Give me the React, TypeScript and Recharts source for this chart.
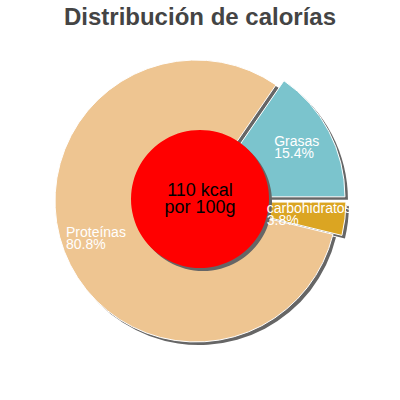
import React from 'react';
import { PieChart, Pie, Cell } from 'recharts';

const categories = ['Grasas', 'Proteínas', 'carbohidratos'];
const percents = [15.4, 80.8, 3.8];
const pulledOut = ['Grasas', 'carbohidratos'];
const energyLines = ['110 kcal', 'por 100g'];
const title = 'Distribución de calorías';

const colors = ['#7bc4cd', '#eec591', '#dba522'];
const shadowColor = '#666666';
const FONT = "'Liberation Sans', Arial, sans-serif";

const CX = 196;
const CY = 201;
const R = 141;
const PULL = 9;
const SHADOW = 3;
const LABEL_SIZE = 14;

const data = categories.map((name, i) => ({ name, value: percents[i] }));
const total = percents.reduce((a, b) => a + b, 0);

// middle angle of every slice, same way the pie lays them out (0 -> 360, ccw)
const midAngles = percents.map((v, i) => {
  const before = percents.slice(0, i).reduce((a, b) => a + b, 0);
  return ((before + v / 2) / total) * 360;
});

const shift = (i: number) => {
  if (!pulledOut.includes(categories[i])) return { dx: 0, dy: 0 };
  const rad = (midAngles[i] * Math.PI) / 180;
  return { dx: PULL * Math.cos(rad), dy: -PULL * Math.sin(rad) };
};

let ctx: CanvasRenderingContext2D | null = null;
const textWidth = (s: string) => {
  if (!ctx) ctx = document.createElement('canvas').getContext('2d');
  if (!ctx) return s.length * 7;
  ctx.font = `${LABEL_SIZE}px ${FONT}`;
  return ctx.measureText(s).width;
};

const renderSliceLabel = (props: any) => {
  const { cx, cy, midAngle, index } = props;
  const { dx, dy } = shift(index);
  const rad = (midAngle * Math.PI) / 180;
  const px = cx + dx + 106 * Math.cos(rad);
  const py = cy + dy - 106 * Math.sin(rad);
  const name = categories[index];
  const left = px - textWidth(name) / 2 - 1;
  return (
    <text key={`lbl-${index}`} x={left} y={py - 2} fill="#ffffff" fontSize={LABEL_SIZE} fontFamily={FONT} textAnchor="start">
      <tspan x={left} y={py - 2}>{name}</tspan>
      <tspan x={left} y={py + 10}>{`${percents[index].toFixed(1)}%`}</tspan>
    </text>
  );
};

const renderCenter = (props: any) => {
  const { cx, cy } = props;
  return (
    <text key="center" x={cx} y={cy} fill="#000000" fontSize={18} fontFamily={FONT} textAnchor="middle">
      <tspan x={cx} y={cy - 3}>{energyLines[0]}</tspan>
      <tspan x={cx} y={cy + 14}>{energyLines[1]}</tspan>
    </text>
  );
};

export default function App() {
  return (
    <div style={{ position: 'absolute', left: 0, top: 0, width: 400, height: 400, background: '#fff' }}>
      <PieChart width={400} height={400} margin={{ top: 0, right: 0, bottom: 0, left: 0 }}>
        <text x={200} y={25} textAnchor="middle" fontSize={24} fontWeight="bold" fontFamily={FONT} fill="#444444">
          {title}
        </text>
        {categories.map((c, k) => {
          const { dx, dy } = shift(k);
          return (
            <Pie
              key={`shadow-${c}`}
              data={data}
              dataKey="value"
              cx={CX + dx + SHADOW}
              cy={CY + dy + SHADOW}
              outerRadius={R}
              startAngle={0}
              endAngle={360}
              stroke="none"
              isAnimationActive={false}
            >
              {data.map((d, i) => (
                <Cell key={d.name} fill={i === k ? shadowColor : 'none'} stroke="none" />
              ))}
            </Pie>
          );
        })}
        {categories.map((c, k) => {
          const { dx, dy } = shift(k);
          return (
            <Pie
              key={`slice-${c}`}
              data={data}
              dataKey="value"
              cx={CX + dx}
              cy={CY + dy}
              outerRadius={R}
              startAngle={0}
              endAngle={360}
              isAnimationActive={false}
            >
              {data.map((d, i) => (
                <Cell
                  key={d.name}
                  fill={i === k ? colors[i] : 'none'}
                  stroke={i === k ? '#ffffff' : 'none'}
                  strokeWidth={1}
                />
              ))}
            </Pie>
          );
        })}
        <Pie
          data={[{ name: 'kcal', value: 1 }]}
          dataKey="value"
          cx={200 + SHADOW}
          cy={199 + SHADOW}
          outerRadius={69}
          fill={shadowColor}
          stroke="none"
          isAnimationActive={false}
        />
        <Pie
          data={[{ name: 'kcal', value: 1 }]}
          dataKey="value"
          cx={200}
          cy={199}
          outerRadius={69}
          fill="#ff0000"
          stroke="none"
          label={renderCenter}
          labelLine={false}
          isAnimationActive={false}
        />
        <Pie
          data={data}
          dataKey="value"
          cx={CX}
          cy={CY}
          outerRadius={R}
          startAngle={0}
          endAngle={360}
          fill="none"
          stroke="none"
          label={renderSliceLabel}
          labelLine={false}
          isAnimationActive={false}
        />
      </PieChart>
    </div>
  );
}
